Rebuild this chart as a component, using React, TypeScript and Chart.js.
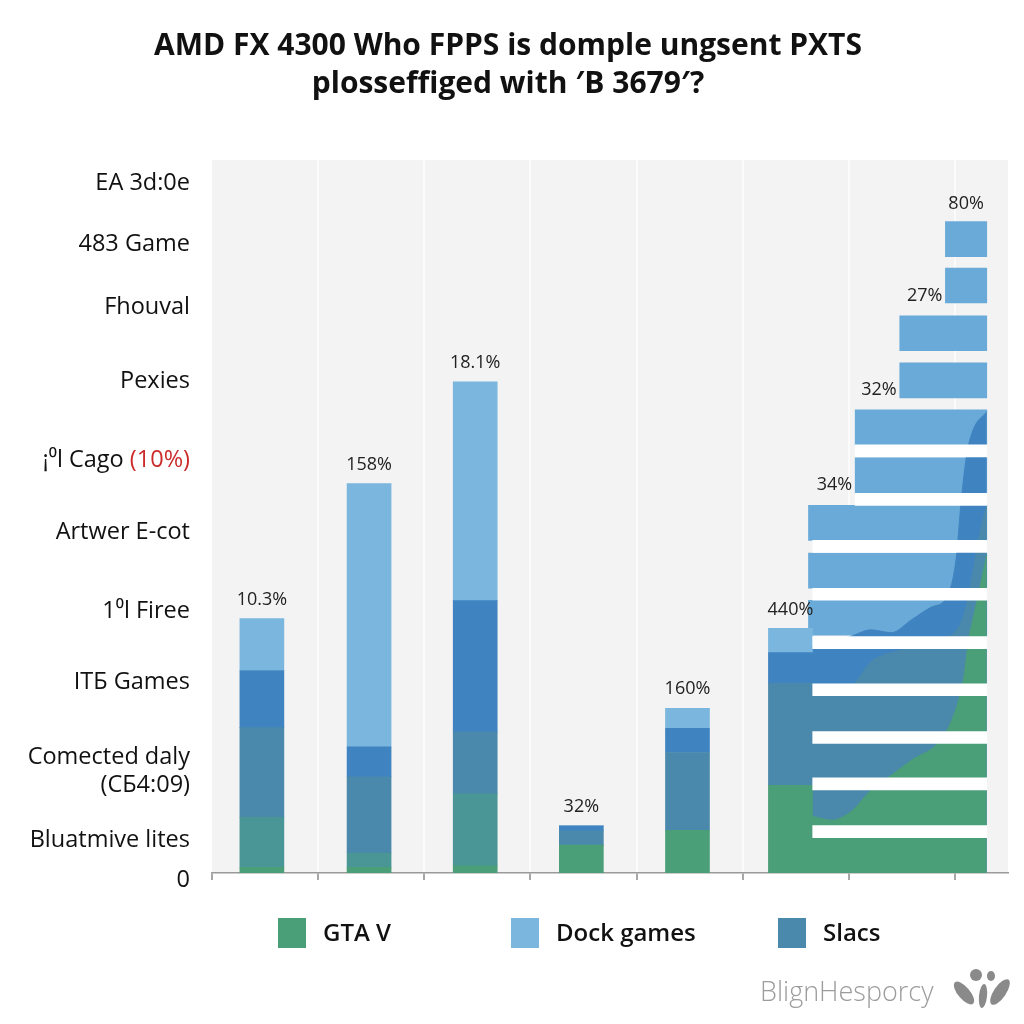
import React, { useEffect, useRef } from "react";
import { Chart, registerables } from "chart.js";

Chart.register(...registerables);

const FONT = "'Open Sans', 'DejaVu Sans', sans-serif";

// ---------- text ----------
const titleLines = [
  "AMD FX 4300 Who FPPS is domple ungsent PXTS",
  "plosseffiged with \u2032B 3679\u2032?",
];

const yTickLabels = [
  "EA 3d:0e",
  "483 Game",
  "Fhouval",
  "Pexies",
  "\u00a1\u2070l Cago",
  "Artwer E-cot",
  "1\u2070l Firee",
  "IT\u0411 Games",
  "Comected daly\n(C\u04114:09)",
  "Bluatmive lites",
  "0",
];
const yTickNotes = ["", "", "", "", "(10%)", "", "", "", "", "", ""];
const yTickValues = [96.8, 88.2, 79.4, 68.9, 57.9, 47.8, 36.7, 26.8, 14.3, 4.6, -1.0];

const legendLabels = ["GTA V", "Dock games", "Slacs"];

// ---------- column bars ----------
const colX = [0.47, 1.48, 2.48, 3.48, 4.48, 5.45];
const colLabels = ["10.3%", "158%", "18.1%", "32%", "160%", "440%"];
const gtaV = [0.8, 0.8, 1.0, 3.9, 6.0, 12.3];
const tealMix = [7.0, 2.0, 10.1, 0, 0, 0];
const slacs = [12.6, 10.7, 8.7, 2.0, 10.9, 14.3];
const deepBlue = [8.0, 4.2, 18.4, 0.7, 3.4, 4.3];
const dockGames = [7.3, 36.9, 30.7, 0, 2.8, 3.4];

// ---------- step bars (right block) ----------
const stepY = [88.9, 82.4, 75.7, 69.1, 62.5, 55.8, 49.1, 42.4, 35.8];
const stepStart = [6.91, 6.91, 6.48, 6.48, 6.06, 6.06, 5.62, 5.62, 5.62];
const stepEnd = [7.3, 7.3, 7.3, 7.3, 7.3, 7.3, 7.3, 7.3, 7.3];
const stepLabels = ["80%", "27%", "", "32%", "", "34%", "", "", ""];

const gapY = [59.2, 52.4, 45.8, 39.1, 32.3, 25.7, 19.0, 12.5, 5.8];
const gapStart = [6.06, 6.06, 5.66, 5.66, 5.66, 5.66, 5.66, 5.66, 5.66];
const gapEnd = [7.3, 7.3, 7.3, 7.3, 7.3, 7.3, 7.3, 7.3, 7.3];

// ---------- area layers (right block) ----------
const deepTopX = [5.62, 6.02, 6.21, 6.4, 6.59, 6.78, 6.92, 7.01, 7.06, 7.11, 7.17, 7.3];
const deepTopY = [31.6, 33.2, 34.1, 33.7, 35.5, 37.3, 38.6, 43.9, 52.3, 58.6, 62.1, 64.7];
const slacsTopX = [5.62, 6.02, 6.21, 6.5, 6.87, 7.06, 7.12, 7.19, 7.24, 7.3];
const slacsTopY = [25.4, 26.2, 29.6, 31.3, 32.7, 35.2, 38.3, 43.9, 48.1, 51.6];
const gtaTopX = [5.62, 5.84, 6.02, 6.21, 6.4, 6.59, 6.87, 6.99, 7.08, 7.13, 7.19, 7.25, 7.3];
const gtaTopY = [8.1, 7.4, 8.6, 11.6, 13.7, 15.8, 18.7, 22.2, 27.1, 32.7, 36.9, 41.1, 44.6];

// ---------- colours ----------
const GREEN = "#4a9e78";
const TEAL = "#4a9596";
const SLACS = "#4a89ab";
const DEEP = "#3f84c1";
const DOCK = "#7bb6de";
const STEP = "#6aaad8";
const legendColors = [GREEN, DOCK, SLACS];

const pts = (xs: number[], ys: number[]) => xs.map((x, i) => ({ x, y: ys[i] }));

const decorPlugin = {
  id: "decor",
  beforeDraw(chart: any) {
    const { ctx, chartArea: a } = chart;
    ctx.save();
    ctx.fillStyle = "#f3f3f3";
    ctx.fillRect(a.left, a.top, a.right - a.left, a.bottom - a.top);
    ctx.restore();
  },
  afterDraw(chart: any) {
    const { ctx } = chart;
    const x = chart.scales.x;
    const y = chart.scales.y;
    const xH = chart.scales.xH;
    const yH = chart.scales.yH;
    ctx.save();

    // y category labels
    ctx.font = `23.5px ${FONT}`;
    ctx.textBaseline = "middle";
    ctx.textAlign = "right";
    yTickLabels.forEach((lab, i) => {
      const py = y.getPixelForValue(yTickValues[i]);
      let right = 190;
      const note = yTickNotes[i];
      if (note) {
        ctx.fillStyle = "#cc2b2b";
        ctx.fillText(note, right, py);
        right -= ctx.measureText(note + " ").width;
      }
      ctx.fillStyle = "#111";
      const lines = lab.split("\n");
      lines.forEach((ln, k) => {
        ctx.fillText(ln, right, py + (k - (lines.length - 1) / 2) * 28);
      });
    });

    // column value labels
    ctx.font = `18px ${FONT}`;
    ctx.fillStyle = "#222";
    ctx.textAlign = "center";
    colLabels.forEach((lab, i) => {
      const total = gtaV[i] + tealMix[i] + slacs[i] + deepBlue[i] + dockGames[i];
      ctx.fillText(lab, x.getPixelForValue(colX[i]), y.getPixelForValue(total) - 19);
    });

    // step labels
    stepLabels.forEach((lab, i) => {
      if (!lab) return;
      const py = yH.getPixelForValue(stepY[i]);
      if (i === 0) {
        ctx.textAlign = "center";
        const cx = xH.getPixelForValue((stepStart[i] + stepEnd[i]) / 2);
        ctx.fillText(lab, cx, py - 35);
      } else {
        ctx.textAlign = "right";
        ctx.fillText(lab, xH.getPixelForValue(stepStart[i]) - 3, py + 10);
      }
    });

    // legend
    const boxX = [278, 511, 778];
    ctx.font = `600 24px ${FONT}`;
    ctx.textAlign = "left";
    legendLabels.forEach((lab, i) => {
      ctx.fillStyle = legendColors[i];
      ctx.fillRect(boxX[i], 918, 28, 30);
      ctx.fillStyle = "#111";
      ctx.fillText(lab, boxX[i] + 45, 934);
    });

    // watermark
    ctx.font = `300 27px ${FONT}`;
    ctx.fillStyle = "#9c9c9c";
    ctx.fillText("BlignHesporcy", 760, 993);
    ctx.fillStyle = "#8a8a8a";
    const leaf = (cx: number, cy: number, rx: number, ry: number, rot: number) => {
      ctx.beginPath();
      ctx.ellipse(cx, cy, rx, ry, rot, 0, Math.PI * 2);
      ctx.fill();
    };
    leaf(964, 993, 6, 14, -0.7);
    leaf(983, 996, 4, 12, 0.1);
    leaf(1000, 992, 6, 15, 0.6);
    leaf(976, 975, 6, 6, 0);
    leaf(991, 976, 4, 5, 0);
    ctx.restore();
  },
};

export default function App() {
  const ref = useRef<HTMLCanvasElement | null>(null);

  useEffect(() => {
    if (!ref.current) return;
    const colSet = (label: string, vals: number[], color: string, order: number) => ({
      type: "bar" as const,
      label,
      data: pts(colX, vals),
      backgroundColor: color,
      borderWidth: 0,
      barThickness: 44,
      maxBarThickness: 44,
      grouped: false,
      stack: "cols",
      xAxisID: "x",
      yAxisID: "y",
      order,
    });
    const areaSet = (label: string, xs: number[], ys: number[], color: string, order: number) => ({
      type: "line" as const,
      label,
      data: pts(xs, ys),
      backgroundColor: color,
      borderColor: color,
      borderWidth: 1,
      pointRadius: 0,
      fill: "origin",
      cubicInterpolationMode: "monotone" as const,
      xAxisID: "xH",
      yAxisID: "yH",
      order,
    });

    const chart = new Chart(ref.current, {
      type: "bar",
      data: {
        datasets: [
          colSet("GTA V", gtaV, GREEN, 1),
          colSet("Teal", tealMix, TEAL, 2),
          colSet("Slacs", slacs, SLACS, 3),
          colSet("Deep", deepBlue, DEEP, 4),
          colSet("Dock games", dockGames, DOCK, 5),
          {
            type: "bar",
            label: "Steps",
            indexAxis: "y",
            xAxisID: "xH",
            yAxisID: "yH",
            data: stepY.map((v, i) => ({ x: [stepStart[i], stepEnd[i]], y: v })),
            backgroundColor: STEP,
            borderWidth: 0,
            barThickness: 35,
            maxBarThickness: 35,
            grouped: false,
            order: 20,
          } as any,
          areaSet("Deep area", deepTopX, deepTopY, DEEP, 19),
          areaSet("Slacs area", slacsTopX, slacsTopY, SLACS, 18),
          areaSet("GTA area", gtaTopX, gtaTopY, GREEN, 17),
          {
            type: "bar",
            label: "Gaps",
            indexAxis: "y",
            xAxisID: "xH",
            yAxisID: "yH2",
            data: gapY.map((v, i) => ({ x: [gapStart[i], gapEnd[i]], y: v })),
            backgroundColor: "#ffffff",
            borderWidth: 0,
            barThickness: 12,
            maxBarThickness: 12,
            grouped: false,
            order: 0,
          } as any,
        ],
      },
      options: {
        responsive: false,
        animation: false,
        indexAxis: "x",
        layout: { padding: { left: 8, right: 16, top: 0, bottom: 144 } },
        scales: {
          x: {
            type: "linear",
            axis: "x",
            min: 0,
            max: 7.5,
            offset: false,
            stacked: true,
            ticks: { display: false, stepSize: 1 },
            grid: {
              offset: false,
              color: (c: any) =>
                c.tick && Number.isInteger(c.tick.value) && c.tick.value > 0 ? "#fbfbfb" : "rgba(0,0,0,0)",
              tickColor: (c: any) =>
                c.tick && Number.isInteger(c.tick.value) ? "#8a8a8a" : "rgba(0,0,0,0)",
              lineWidth: 2,
              tickWidth: 1.5,
              tickLength: 7,
            },
            border: { color: "#9a9a9a", width: 1.5 },
          },
          y: {
            type: "linear",
            axis: "y",
            min: 0,
            max: 100,
            offset: false,
            stacked: true,
            ticks: { display: false },
            grid: { display: false },
            border: { display: false },
            afterFit: (s: any) => {
              s.width = 204;
            },
          },
          xH: { type: "linear", axis: "x", display: false, min: 0, max: 7.5, offset: false, grid: { offset: false } },
          yH: { type: "linear", axis: "y", display: false, min: 0, max: 100, offset: false, grid: { offset: false } },
          yH2: { type: "linear", axis: "y", display: false, min: 0, max: 100, offset: false, grid: { offset: false } },
        } as any,
        plugins: {
          legend: { display: false },
          tooltip: { enabled: false },
          title: {
            display: true,
            text: titleLines,
            color: "#111",
            font: { family: FONT, size: 30, weight: "bold", lineHeight: 1.25 },
            padding: { top: 28, bottom: 57 },
          },
        },
      } as any,
      plugins: [decorPlugin],
    });
    return () => chart.destroy();
  }, []);

  return (
    <div
      style={{
        position: "fixed",
        left: 0,
        top: 0,
        width: 1024,
        height: 1024,
        background: "#ffffff",
      }}
    >
      <canvas ref={ref} width={1024} height={1024} style={{ width: 1024, height: 1024 }} />
    </div>
  );
}
